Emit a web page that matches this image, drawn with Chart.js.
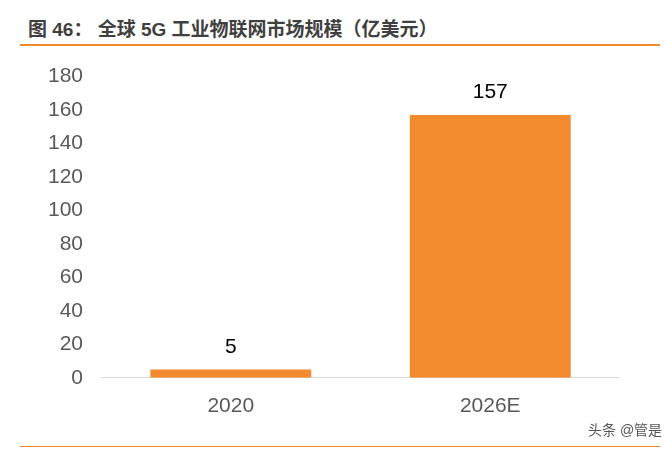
<!DOCTYPE html>
<html>
<head>
<meta charset="utf-8">
<script src="https://cdn.jsdelivr.net/npm/chart.js@4"></script>
<style>
body { margin: 0; background: #fff; font-family: "Liberation Sans", "Noto Sans CJK SC", sans-serif; overflow: hidden; }
#title { position: absolute; left: 28px; top: 14px; font-size: 19px; font-weight: bold; color: #404040; }
#topLine { position: absolute; left: 20px; top: 44px; width: 640px; height: 2px; background: #f28a2e; }
#bottomLine { position: absolute; left: 20px; top: 446px; width: 640px; height: 1px; background: #f28a2e; }
#mark { position: absolute; left: 588px; top: 419px; font-size: 14px; color: #555; white-space: nowrap; }
#chart { position: absolute; left: 30px; top: 46px; }
</style>
</head>
<body>
<div id="title">图 46： 全球 5G 工业物联网市场规模（亿美元）</div>
<div id="topLine"></div>
<canvas id="chart" width="590" height="389"></canvas>
<div id="mark">头条 @管是</div>
<div id="bottomLine"></div>
<script>
const categories = ["2020", "2026E"];
const values = [5, 157];
const tickValues = [0, 20, 40, 60, 80, 100, 120, 140, 160, 180];

// draw the value above each bar
const barLabels = {
    id: "barLabels",
    afterDatasetsDraw(chart) {
        const ctx = chart.ctx;
        ctx.save();
        ctx.font = "21px 'Liberation Sans'";
        ctx.fillStyle = "#000";
        ctx.textAlign = "center";
        ctx.textBaseline = "bottom";
        chart.getDatasetMeta(0).data.forEach((bar, i) => {
            ctx.fillText(values[i], bar.x, bar.y - 12);
        });
        ctx.restore();
    }
};

new Chart(document.getElementById("chart"), {
    type: "bar",
    data: {
        labels: categories,
        datasets: [{
            data: values,
            backgroundColor: "#f28a2e",
            barPercentage: 0.62,
            categoryPercentage: 1
        }]
    },
    options: {
        responsive: false,
        animation: false,
        layout: { padding: { top: 6, right: 0 } },
        plugins: { legend: { display: false }, tooltip: { enabled: false } },
        scales: {
            x: {
                grid: { display: false, drawTicks: false },
                border: { color: "#d9d9d9", width: 1 },
                ticks: { color: "#595959", font: { size: 21, family: "Liberation Sans" }, padding: 16 }
            },
            y: {
                min: 0, max: 180,
                afterBuildTicks: axis => { axis.ticks = tickValues.map(v => ({ value: v })); },
                grid: { display: false, drawTicks: false },
                border: { display: false },
                ticks: { color: "#595959", font: { size: 21, family: "Liberation Sans" }, padding: 18 }
            }
        }
    },
    plugins: [barLabels]
});
</script>
</body>
</html>
